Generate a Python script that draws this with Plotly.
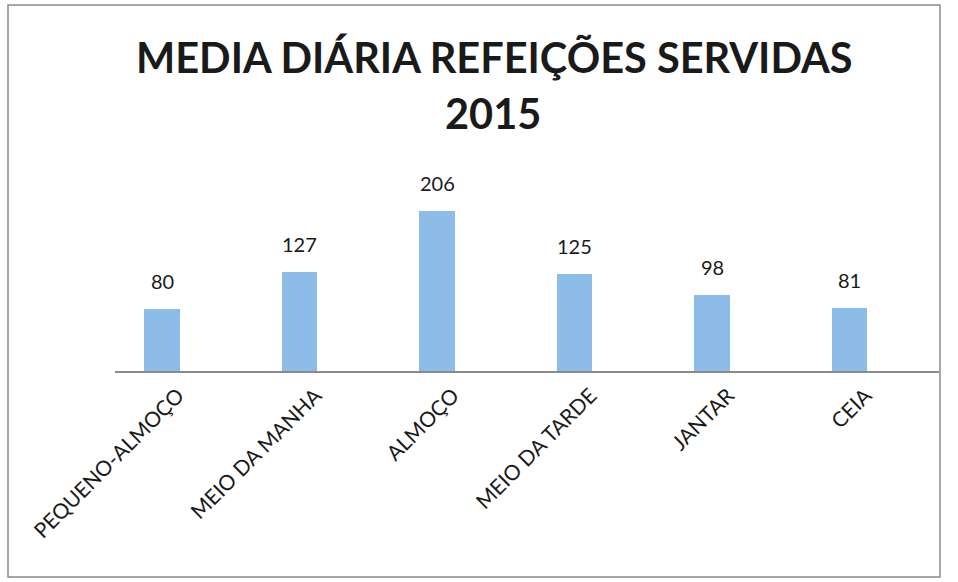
import plotly.graph_objects as go

categories = ["PEQUENO-ALMOÇO", "MEIO DA MANHA", "ALMOÇO", "MEIO DA TARDE", "JANTAR", "CEIA"]
values = [80, 127, 206, 125, 98, 81]
title_lines = ["MEDIA DIÁRIA REFEIÇÕES SERVIDAS", "2015"]

L, R, T, B = 115, 19, 160, 211
W, H = 958, 582
pw, ph = W - L - R, H - T - B

def px(x):
    return (x - L) / pw

def py(y):
    return (H - B - y) / ph

fig = go.Figure(go.Bar(
    x=categories, y=values,
    width=0.26,
    marker=dict(color="#8ebce9", line=dict(width=0)),
    cliponaxis=False,
))

value_labels = [
    dict(text=str(v), x=c, y=v, xref="x", yref="y", showarrow=False,
         xanchor="center", yanchor="bottom", yshift=14,
         font=dict(family="Lato", size=20, color="#1a1a1a"))
    for c, v in zip(categories, values)
]

fig.update_layout(
    width=W, height=H,
    margin=dict(l=L, r=R, t=T, b=B),
    paper_bgcolor="white", plot_bgcolor="white",
    showlegend=False,
    bargap=0,
    annotations=value_labels + [
        dict(text="<b>" + title_lines[0] + "</b>", x=px(494), y=py(57), xref="paper", yref="paper",
             showarrow=False, xanchor="center", yanchor="middle",
             font=dict(family="Lato", size=41.5, color="#1a1a1a")),
        dict(text="<b>" + title_lines[1] + "</b>", x=px(493), y=py(113), xref="paper", yref="paper",
             showarrow=False, xanchor="center", yanchor="middle",
             font=dict(family="Lato", size=41.5, color="#1a1a1a")),
    ],
    shapes=[
        dict(type="rect", xref="paper", yref="paper", x0=px(8), x1=px(940), y0=py(577), y1=py(5),
             line=dict(color="#8a8a8a", width=1.5), fillcolor="rgba(0,0,0,0)", layer="below"),
    ],
)

fig.update_xaxes(
    range=[-0.342, 5.65],
    showline=True, linecolor="#8a8a8a", linewidth=2,
    showgrid=False, ticks="", tickangle=-45,
    tickfont=dict(family="Lato", size=21, color="#1a1a1a"),
    ticklabelstandoff=2, ticklabelshift=16,
)
fig.update_yaxes(range=[0, 272], visible=False, showgrid=False, zeroline=False)

fig.write_html("out.html", config={"displayModeBar": False},
               post_script="document.body.style.margin='0';")
